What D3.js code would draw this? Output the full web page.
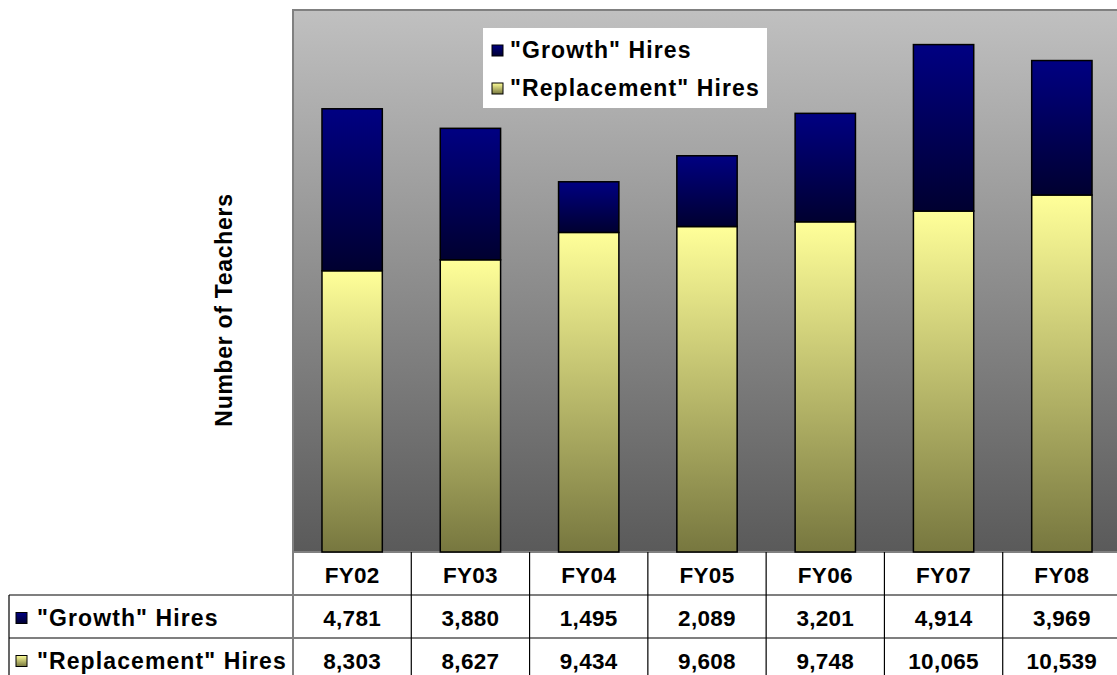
<!DOCTYPE html>
<html>
<head>
  <title>Teacher Hires FY02-FY08</title>
  <script src="https://d3js.org/d3.v7.min.js"></script>
  <style>
    body { margin: 0; background: #fff; }
    svg { font-family: Arial, "Liberation Sans", sans-serif; font-weight: bold; }
    .cell { font-size: 22.5px; letter-spacing: 0.3px; }
    .label { font-size: 23px; letter-spacing: 1.1px; }
    .title { font-size: 23px; letter-spacing: 0.7px; }
  </style>
</head>
<body>
  <svg width="1117" height="675"></svg>

  <script>
    // chart data
    const years = ["FY02", "FY03", "FY04", "FY05", "FY06", "FY07", "FY08"];
    const growth = [4781, 3880, 1495, 2089, 3201, 4914, 3969];
    const replacement = [8303, 8627, 9434, 9608, 9748, 10065, 10539];
    const seriesNames = ['"Growth" Hires', '"Replacement" Hires'];

    const svg = d3.select("svg");
    const plot = { left: 293, right: 1121, top: 10, bottom: 552 };
    const rowH = 43;

    // gradients
    const defs = svg.append("defs");
    function vGrad(id, top, bottom) {
      const g = defs.append("linearGradient").attr("id", id)
        .attr("x1", 0).attr("y1", 0).attr("x2", 0).attr("y2", 1);
      g.append("stop").attr("offset", "0%").attr("stop-color", top);
      g.append("stop").attr("offset", "100%").attr("stop-color", bottom);
    }
    vGrad("bg", "#c0c0c0", "#5a5a5a");
    vGrad("growthFill", "#000082", "#000030");
    vGrad("replFill", "#ffff99", "#77773f");

    const x = d3.scaleBand()
      .domain(years)
      .range([plot.left, plot.right])
      .paddingInner(0.49)
      .paddingOuter(0.245);
    const step = x.step();

    const y = d3.scaleLinear()
      .domain([0, 16000])
      .range([plot.bottom, plot.top]);

    // plot background
    svg.append("rect")
      .attr("x", plot.left).attr("y", plot.top)
      .attr("width", plot.right - plot.left).attr("height", plot.bottom - plot.top)
      .attr("fill", "url(#bg)")
      .attr("stroke", "#808080").attr("stroke-width", 2);

    // stacked bars
    const rows = years.map((yr, i) => ({ year: yr, growth: growth[i], replacement: replacement[i] }));
    const stack = d3.stack().keys(["replacement", "growth"])(rows);
    const fills = { replacement: "url(#replFill)", growth: "url(#growthFill)" };

    svg.selectAll(".layer")
      .data(stack)
      .enter().append("g")
      .attr("class", "layer")
      .attr("fill", d => fills[d.key])
      .selectAll("rect")
      .data(d => d)
      .enter().append("rect")
      .attr("x", d => x(d.data.year))
      .attr("y", d => y(d[1]))
      .attr("width", x.bandwidth())
      .attr("height", d => y(d[0]) - y(d[1]))
      .attr("stroke", "#000")
      .attr("stroke-width", 1.5);

    // legend inside the plot
    const legend = svg.append("g").attr("transform", "translate(483,28)");
    legend.append("rect").attr("width", 284).attr("height", 80).attr("fill", "#fff");
    const legendFills = ["url(#growthFill)", "url(#replFill)"];
    seriesNames.forEach((name, i) => {
      const ly = 22 + i * 38;
      legend.append("rect")
        .attr("x", 9).attr("y", ly - 5).attr("width", 11).attr("height", 11)
        .attr("fill", legendFills[i]).attr("stroke", "#000");
      legend.append("text")
        .attr("class", "label")
        .attr("x", 27).attr("y", ly).attr("dy", "0.36em")
        .text(name);
    });

    // y axis title
    svg.append("text")
      .attr("class", "title")
      .attr("transform", "translate(232,310) rotate(-90)")
      .attr("text-anchor", "middle")
      .text("Number of Teachers");

    // data table
    const table = svg.append("g");
    const tTop = plot.bottom;
    const lineY = [tTop + rowH, tTop + 2 * rowH];
    lineY.forEach(ly => {
      table.append("line")
        .attr("x1", 9).attr("x2", 1117).attr("y1", ly).attr("y2", ly)
        .attr("stroke", "#000").attr("stroke-width", 1.2);
    });
    // vertical lines
    table.append("line")
      .attr("x1", 9).attr("x2", 9).attr("y1", tTop + rowH).attr("y2", 675)
      .attr("stroke", "#000").attr("stroke-width", 1.2);
    table.append("line")
      .attr("x1", plot.left).attr("x2", plot.left).attr("y1", tTop).attr("y2", 675)
      .attr("stroke", "#808080").attr("stroke-width", 2);
    years.forEach((yr, i) => {
      if (i === 0) return;
      const vx = plot.left + i * step;
      table.append("line")
        .attr("x1", vx).attr("x2", vx).attr("y1", tTop).attr("y2", 675)
        .attr("stroke", "#000").attr("stroke-width", 1.2);
    });

    const fmt = d3.format(",");
    const rowsData = [years, growth.map(fmt), replacement.map(fmt)];
    rowsData.forEach((vals, r) => {
      table.selectAll(null)
        .data(vals)
        .enter().append("text")
        .attr("class", "cell")
        .attr("x", (d, i) => x(years[i]) + x.bandwidth() / 2)
        .attr("y", tTop + r * rowH + rowH / 2 + 1)
        .attr("dy", "0.36em")
        .attr("text-anchor", "middle")
        .text(d => d);
    });

    // row labels
    seriesNames.forEach((name, i) => {
      const ry = tTop + (i + 1) * rowH + rowH / 2 + 1;
      table.append("rect")
        .attr("x", 16).attr("y", ry - 5).attr("width", 11).attr("height", 11)
        .attr("fill", legendFills[i]).attr("stroke", "#000");
      table.append("text")
        .attr("class", "label")
        .attr("x", 37).attr("y", ry).attr("dy", "0.36em")
        .text(name);
    });
  </script>
</body>
</html>
